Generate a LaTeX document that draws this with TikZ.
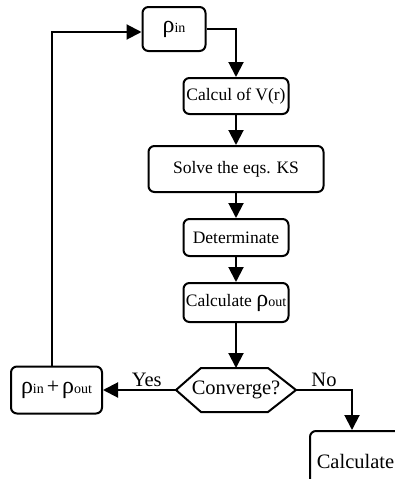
\documentclass[tikz,border=0pt]{standalone}
\usepackage{fontspec}
\setmainfont{Liberation Serif}
\usetikzlibrary{arrows.meta,positioning,calc}

\newcommand{\rhosub}[1]{{\fontsize{24}{24}\selectfont ρ}{\fontsize{14}{14}\selectfont #1}}

\begin{document}
\begin{tikzpicture}[
  x=1pt, y=1pt,
  font=\fontsize{17.5}{20}\selectfont,
  >={Triangle[length=15pt,width=15pt]},
  step box/.style={rectangle, draw=black, fill=white, rounded corners=6pt,
                   line width=2pt, align=center, inner sep=2pt},
  test box/.style={rectangle, inner sep=0pt, outer sep=1pt,
                   font=\fontsize{20.5}{22}\selectfont},
  hexline/.style={draw=black, line width=2pt, line join=miter},
  flow/.style={->, draw=black, line width=2pt},
  lbl/.style={font=\fontsize{20.5}{22}\selectfont, inner sep=2pt}
]
\useasboundingbox (0,0) rectangle (395,-479);

% ---------- Loop start ----------
\node[step box, minimum width=63pt, minimum height=44pt] (rhoin) at (174,-29)
  {\rhosub{in}};

% ---------- Main column ----------
\node[step box, minimum width=105pt, minimum height=36pt] (vcalc) at (236,-96)
  {Calcul of V(r)};
\node[step box, minimum width=175pt, minimum height=46pt, below=30pt of vcalc]
  (ks) {Solve the eqs. KS};
\node[step box, minimum width=105pt, minimum height=37pt, below=25pt of ks]
  (det) {Determinate};
\node[step box, minimum width=105pt, minimum height=39pt, below=25pt of det]
  (rhoout) {Calculate \rhosub{out}};
\node[test box, minimum width=118pt, minimum height=42pt, below=45pt of rhoout]
  (conv) {Converge?};
% hexagon outline of the test
\draw[hexline] (conv.west) -- ($(conv.north west)+(25,0)$)
  -- ($(conv.north east)+(-28,0)$) -- (conv.east)
  -- ($(conv.south east)+(-28,0)$) -- ($(conv.south west)+(25,0)$) -- cycle;

\draw[flow] (rhoin.east) -| (vcalc.north);
\draw[flow] (vcalc) -- (ks);
\draw[flow] (ks) -- (det);
\draw[flow] (det) -- (rhoout);
\draw[flow] (rhoout) -- (conv);

% ---------- Yes branch: mix and loop back ----------
\node[step box, minimum width=91pt, minimum height=47pt, left=73pt of conv]
  (mix) {\rhosub{in}\,{\fontsize{22}{22}\selectfont +}\,\rhosub{out}};
\draw[flow] (conv.west) -- (mix.east) node[lbl, pos=0.4, above] {Yes};
\draw[flow] ([xshift=-5pt]mix.north) |- ([yshift=-3pt]rhoin.west);

% ---------- No branch ----------
\node[step box, minimum width=91pt, minimum height=60pt, anchor=north west,
      font=\fontsize{20.5}{22}\selectfont] (final) at (309,-430) {Calculate};
\path (conv.east) ++(56,0) coordinate (nobend);
\draw[flow] (conv.east) -- (nobend) node[lbl, midway, above] {No}
  -- (nobend |- final.north);

\end{tikzpicture}
\end{document}
